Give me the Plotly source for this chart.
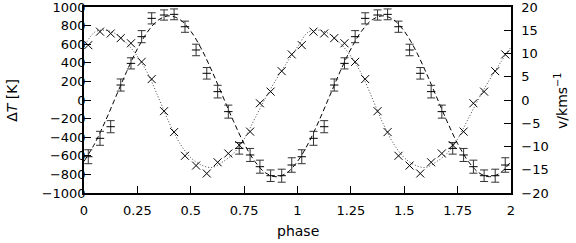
import numpy as np
import plotly.graph_objects as go

# --- data (one cycle; plotted twice over phase 0..2) ---
phase = [0.020, 0.075, 0.125, 0.172, 0.220, 0.270, 0.317, 0.375, 0.422, 0.473,
         0.525, 0.575, 0.626, 0.676, 0.727, 0.778, 0.824, 0.874, 0.926, 0.973]
dT = [-610, -412, -287, 161, 394, 681, 878, 914, 921, 788,
      538, 287, 90, -125, -520, -591, -717, -814, -814, -699]
dT_err = [75, 75, 65, 65, 60, 65, 60, 55, 58, 60,
          62, 62, 68, 70, 62, 70, 70, 62, 70, 78]
vel = [11.8, 14.7, 14.3, 13.3, 12.2, 8.2, 4.5, -2.4, -6.9, -12.0,
       -14.1, -15.8, -13.4, -11.5, -9.7, -6.8, -0.7, 1.8, 6.2, 9.8]

fit_phase = [0.00, 0.05, 0.10, 0.15, 0.20, 0.25, 0.30, 0.35, 0.40, 0.45, 0.50,
             0.55, 0.60, 0.65, 0.70, 0.75, 0.80, 0.85, 0.90, 0.95]
dT_fit = [-660, -469, -227, 40, 307, 549, 740, 863, 905, 863, 740,
          549, 307, 40, -227, -469, -660, -783, -825, -783]
v_fit = [11.4, 14.6, 15.0, 14.2, 12.2, 9.4, 5.6, 0.4, -5.0, -9.4, -12.4,
         -14.0, -14.5, -13.3, -11.5, -8.4, -4.0, 0.4, 4.4, 8.0]

x_ticks = [0, 0.25, 0.5, 0.75, 1, 1.25, 1.5, 1.75, 2]
x_ticktext = ["0", "0.25", "0.5", "0.75", "1", "1.25", "1.5", "1.75", "2"]
y_ticks = [-1000, -800, -600, -400, -200, 0, 200, 400, 600, 800, 1000]
y2_ticks = [-20, -15, -10, -5, 0, 5, 10, 15, 20]

# --- build two cycles ---
ph2 = np.concatenate([np.array(phase), np.array(phase) + 1])
dT2 = np.concatenate([dT, dT])
err2 = np.concatenate([dT_err, dT_err])
v2 = np.concatenate([vel, vel])
fp2 = np.concatenate([np.array(fit_phase), np.array(fit_phase) + 1, [2.0]])
dTf2 = np.concatenate([dT_fit, dT_fit, [dT_fit[0]]])
vf2 = np.concatenate([v_fit, v_fit, [v_fit[0]]])

FONT = "DejaVu Sans"

fig = go.Figure()
fig.add_trace(go.Scatter(x=fp2, y=dTf2, mode="lines", line_shape="spline",
                         line=dict(color="black", width=1, dash="5px,3px"),
                         showlegend=False, hoverinfo="skip"))
fig.add_trace(go.Scatter(x=fp2, y=vf2, mode="lines", line_shape="spline", yaxis="y2",
                         line=dict(color="#444", width=1, dash="1px,2px"),
                         showlegend=False, hoverinfo="skip"))
fig.add_trace(go.Scatter(x=ph2, y=dT2, mode="markers",
                         marker=dict(symbol="line-ew", size=6, color="black",
                                     line=dict(width=1, color="black")),
                         error_y=dict(type="data", array=err2, thickness=1, width=4,
                                      color="#333"),
                         showlegend=False))
fig.add_trace(go.Scatter(x=ph2, y=v2, mode="markers", yaxis="y2",
                         marker=dict(symbol="x-thin", size=8, color="black",
                                     line=dict(width=1, color="black")),
                         showlegend=False))

axis_common = dict(showgrid=False, zeroline=False, showline=True, linecolor="black",
                   linewidth=1.5, ticks="inside", ticklen=7, tickcolor="black",
                   automargin=False, ticklabeloverflow="allow",
                   tickfont=dict(family=FONT, size=13, color="black"))

fig.update_layout(
    template="none",
    width=576, height=243,
    margin=dict(l=84, r=65, t=7, b=50, autoexpand=False),
    paper_bgcolor="white", plot_bgcolor="white",
    xaxis=dict(range=[0, 2], tickvals=x_ticks, ticktext=x_ticktext, mirror=True,
               ticklabelstandoff=5, **axis_common),
    yaxis=dict(range=[-1000, 1000], tickvals=y_ticks, mirror=False,
               ticklabelstandoff=-6, **axis_common),
    yaxis2=dict(range=[-20, 20], tickvals=y2_ticks, overlaying="y", side="right",
                ticklabelstandoff=6, **axis_common),
    annotations=[
        dict(text="Δ<i>T</i> [K]", xref="paper", yref="paper", x=-0.169, y=0.5,
             textangle=-90, showarrow=False, xanchor="center", yanchor="middle",
             font=dict(family=FONT, size=14, color="black")),
        dict(text="v/kms<sup>−1</sup>", xref="paper", yref="paper", x=1.117, y=0.5,
             textangle=-90, showarrow=False, xanchor="center", yanchor="middle",
             font=dict(family=FONT, size=14, color="black")),
        dict(text="phase", xref="paper", yref="paper", x=0.5, y=-0.205,
             showarrow=False, xanchor="center", yanchor="middle",
             font=dict(family=FONT, size=14, color="black")),
    ],
)

fig.write_html("out.html", config={"displayModeBar": False},
               post_script="document.body.style.margin='0';document.body.style.overflow='hidden';")
